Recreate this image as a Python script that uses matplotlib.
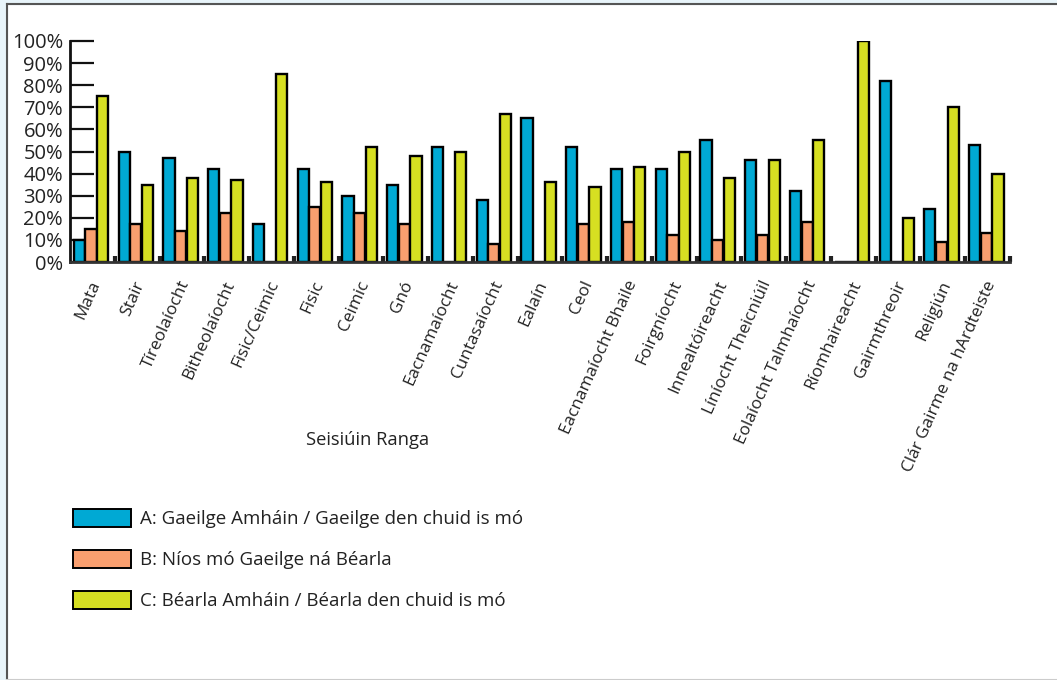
import numpy as np
import matplotlib
matplotlib.use('Agg')
import matplotlib.pyplot as plt
from matplotlib.patches import Rectangle, Patch
from matplotlib.lines import Line2D
from matplotlib.transforms import ScaledTranslation

plt.rcParams['font.family'] = ['Open Sans', 'DejaVu Sans']

# data (percent)
subjects = ['Mata', 'Stair', 'Tíreolaíocht', 'Bitheolaíocht', 'Fisic/Ceimic', 'Fisic',
            'Ceimic', 'Gnó', 'Eacnamaíocht', 'Cuntasaíocht', 'Ealaín', 'Ceol',
            'Eacnamaíocht Bhaile', 'Foirgníocht', 'Innealtóireacht', 'Líníocht Theicniúil',
            'Eolaíocht Talmhaíocht', 'Ríomhaireacht', 'Gairmthreoir', 'Religiún',
            'Clár Gairme na hArdteiste']
series_a = [10, 50, 47, 42, 17, 42, 30, 35, 52, 28, 65, 52, 42, 42, 55, 46, 32, 0, 82, 24, 53]
series_b = [15, 17, 14, 22, 0, 25, 22, 17, 0, 8, 0, 17, 18, 12, 10, 12, 18, 0, 0, 9, 13]
series_c = [75, 35, 38, 37, 85, 36, 52, 48, 50, 67, 36, 34, 43, 50, 38, 46, 55, 100, 20, 70, 40]
legend_labels = ['A: Gaeilge Amháin / Gaeilge den chuid is mó',
                 'B: Níos mó Gaeilge ná Béarla',
                 'C: Béarla Amháin / Béarla den chuid is mó']
yticks = list(range(0, 101, 10))

cols = ['#00A9D4', '#F99F6F', '#D6DF22']
txt = '#222222'

fig = plt.figure(figsize=(10.57, 6.80), dpi=100)
ax = fig.add_axes([70/1057, 1-262/680, 940/1057, 221/680])

n = len(subjects)
x = np.arange(n) + 0.47
w = 0.25
for off, vals, c in zip([-w-0.01, 0, w+0.01], [series_a, series_b, series_c], cols):
    ax.bar(x + off, vals, width=w, color=c, edgecolor='black', linewidth=1.7, zorder=2)

ax.set_xlim(0, n)
ax.set_ylim(0, 100)
ax.set_yticks(yticks)
ax.set_yticklabels([f'{v}%' for v in yticks], fontsize=14.5, color=txt)
ax.tick_params(axis='y', direction='in', length=17, width=1.6, pad=5, color='#111111')

ax.set_xticks(x)
ax.set_xticklabels(subjects, rotation=66, ha='right', va='center', rotation_mode='anchor',
                   fontsize=12.3, color=txt)
ax.tick_params(axis='x', which='major', length=0, pad=14)
shift = ScaledTranslation(5/100, 0, fig.dpi_scale_trans)
for lab in ax.get_xticklabels():
    lab.set_transform(lab.get_transform() + shift)
ax.set_xticks(np.arange(1, n + 1), minor=True)
ax.tick_params(axis='x', which='minor', direction='in', length=4, width=3, color='#222222')

for s in ['top', 'right']:
    ax.spines[s].set_visible(False)
ax.spines['left'].set_linewidth(2)
ax.spines['bottom'].set_linewidth(2)
ax.spines['left'].set_color('#111111')
ax.spines['bottom'].set_color('#333333')

fig.text(368/1057, 1-440/680, 'Seisiúin Ranga', ha='center', va='center', fontsize=13.2, color=txt)

handles = [Patch(facecolor=c, edgecolor='black', linewidth=1.4) for c in cols]
fig.legend(handles, legend_labels, loc='upper left', bbox_to_anchor=(73/1057, 1-509/680),
           frameon=False, fontsize=13.5, handlelength=3.1, handleheight=1.1,
           labelspacing=1.15, handletextpad=0.5, borderpad=0, borderaxespad=0,
           labelcolor=txt)

# page frame
fig.patches.append(Rectangle((0, 0), 7/1057, 1, transform=fig.transFigure, color='#E8F4FA', zorder=0))
fig.patches.append(Rectangle((0, 1-4/680), 1, 4/680, transform=fig.transFigure, color='#E8F4FA', zorder=0))
fig.lines.append(Line2D([7/1057, 7/1057], [0, 1-4/680], transform=fig.transFigure, color='#555555', lw=1.5))
fig.lines.append(Line2D([7/1057, 1], [1-4/680, 1-4/680], transform=fig.transFigure, color='#555555', lw=1.5))
fig.lines.append(Line2D([7/1057, 1], [0.5/680, 0.5/680], transform=fig.transFigure, color='#CCCCCC', lw=1.5))

fig.savefig('out.png', dpi=100)
